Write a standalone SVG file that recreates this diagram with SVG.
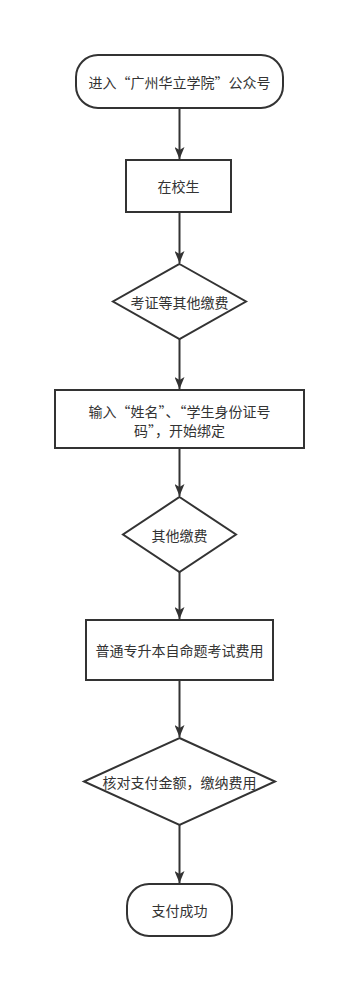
<svg xmlns="http://www.w3.org/2000/svg" width="358" height="991" viewBox="0 0 358 991">
<style>
.s{fill:#fff;stroke:#333;stroke-width:2}
.t{font-family:"Noto Sans CJK SC","Noto Sans",sans-serif;font-size:14px;fill:#333;text-anchor:middle;dominant-baseline:central}
.c{stroke:#333;stroke-width:2;fill:none;marker-end:url(#a)}
</style>
<defs>
<marker id="a" markerWidth="12" markerHeight="10" refX="12" refY="5" orient="auto" markerUnits="userSpaceOnUse" viewBox="0 0 12 10">
<path d="M0,0 L12,5 L0,10 L3,5 Z" fill="#333"/>
</marker>
</defs>
<rect width="358" height="991" fill="#fff"/>
<g id="connectors">
<line class="c" x1="179.5" y1="108" x2="179.5" y2="159"/>
<line class="c" x1="179.5" y1="212" x2="179.5" y2="263"/>
<line class="c" x1="179.5" y1="339" x2="179.5" y2="389"/>
<line class="c" x1="179.5" y1="448" x2="179.5" y2="496"/>
<line class="c" x1="179.5" y1="572" x2="179.5" y2="619"/>
<line class="c" x1="179.5" y1="680" x2="179.5" y2="737"/>
<line class="c" x1="179.5" y1="825" x2="179.5" y2="883"/>
</g>
<g id="n1">
<rect class="s" x="76" y="55" width="207" height="53" rx="22" ry="22"/>
<text class="t" x="179.5" y="82">进入“广州华立学院”公众号</text>
</g>
<g id="n2">
<rect class="s" x="126" y="160" width="105" height="52"/>
<text class="t" x="178.5" y="186">在校生</text>
</g>
<g id="n3">
<polygon class="s" points="179.5,264 246,301.5 179.5,339 113,301.5"/>
<text class="t" x="179.5" y="301.5">考证等其他缴费</text>
</g>
<g id="n4">
<rect class="s" x="55" y="390" width="249" height="58"/>
<text class="t" x="179.5" y="410.5">输入“姓名”、“学生身份证号</text>
<text class="t" x="179.5" y="429.5">码”，开始绑定</text>
</g>
<g id="n5">
<polygon class="s" points="179.5,497 236,534.5 179.5,572 123,534.5"/>
<text class="t" x="179.5" y="534.5">其他缴费</text>
</g>
<g id="n6">
<rect class="s" x="86" y="620" width="187" height="60"/>
<text class="t" x="179.5" y="650">普通专升本自命题考试费用</text>
</g>
<g id="n7">
<polygon class="s" points="179.5,738 275,781.5 179.5,825 84,781.5"/>
<text class="t" x="179.5" y="781.5">核对支付金额，缴纳费用</text>
</g>
<g id="n8">
<rect class="s" x="127" y="884" width="105" height="52" rx="22" ry="22"/>
<text class="t" x="179.5" y="910">支付成功</text>
</g>
</svg>
